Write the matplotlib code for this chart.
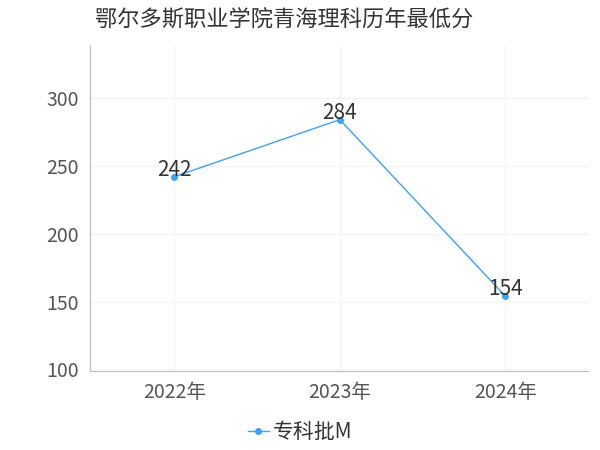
import matplotlib
matplotlib.use("Agg")
from matplotlib import pyplot as plt

plt.rcParams['font.family'] = ['Noto Sans CJK SC', 'DejaVu Sans']

years = ["2022年", "2023年", "2024年"]
scores = [242, 284, 154]
series_name = "专科批M"
title = "鄂尔多斯职业学院青海理科历年最低分"

fig = plt.figure(figsize=(6, 4.5), dpi=100)
ax = fig.add_axes([0.15, 0.176, 0.83, 0.724])

x = range(len(years))
ax.plot(x, scores, color="#3fa0f5", lw=1, marker="o", ms=4, label=series_name)
for xi, v in zip(x, scores):
    ax.annotate(str(v), (xi, v), xytext=(0, -3), textcoords="offset points",
                ha="center", va="bottom", fontsize=15, color="#333333")

ax.set_xlim(-0.51, 2.5)
ax.set_ylim(99, 339)
ax.set_xticks(list(x))
ax.set_xticklabels(years)
ax.set_yticks([100, 150, 200, 250, 300])
ax.tick_params(labelsize=14, colors="#555555", length=0, pad=8)
ax.grid(True, color="#f3f3f3", lw=0.8)
for s in ["top", "right"]:
    ax.spines[s].set_visible(False)
for s in ["left", "bottom"]:
    ax.spines[s].set_color("#bbbbbb")

fig.text(0.158, 0.955, title, fontsize=16, color="#333333", va="center")
fig.legend(loc="center", bbox_to_anchor=(0.5, 0.04), frameon=False,
           fontsize=15, handlelength=1, handletextpad=0.2, labelcolor="#333333")

fig.savefig("out.png")
